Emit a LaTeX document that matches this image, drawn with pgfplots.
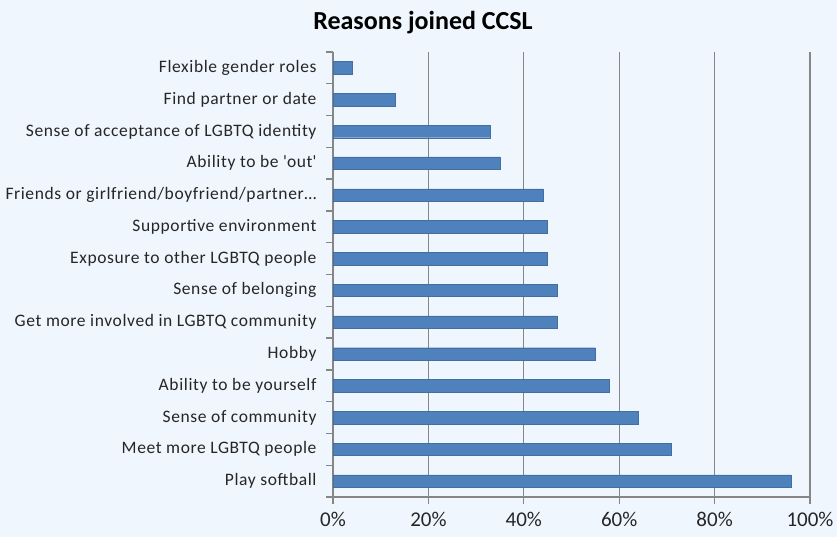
\documentclass[border=0pt]{standalone}
\usepackage{fontspec}
\setmainfont{Carlito}
\newfontfamily\lblfont{Carlito}[LetterSpace=3.5]
\usepackage{pgfplots}
\pgfplotsset{compat=1.18}
\definecolor{bgc}{RGB}{239,246,253}
\definecolor{barc}{RGB}{79,129,189}
\definecolor{gridc}{RGB}{134,134,134}
\begin{document}
\begin{tikzpicture}
\useasboundingbox (0,0) rectangle (837pt,537pt);
\fill[bgc] (0,0) rectangle (837pt,537pt);
\node[font=\fontsize{26}{30}\selectfont\bfseries, anchor=base] at (423pt,507pt) {Reasons joined CCSL};
\begin{axis}[
  at={(333pt,40pt)}, anchor=south west,
  scale only axis, width=477pt, height=445pt,
  xbar, bar width=12.5pt,
  xmin=0, xmax=100, ymin=-0.5, ymax=13.5,
  axis x line*=bottom, axis y line*=left,
  axis line style={gridc, line width=1.3pt, -},
  xtick={0,20,40,60,80,100},
  xticklabel={\pgfmathprintnumber{\tick}\%},
  /pgf/number format/assume math mode=true,
  xtick align=outside, ytick align=outside,
  xmajorgrids,
  grid style={gridc, line width=1.3pt},
  every tick/.style={gridc, line width=1.3pt},
  major tick length=7pt,
  ytick={-0.5,0.5,...,13.5},
  y tick label as interval,
  yticklabels={Play softball, Meet more LGBTQ people, Sense of community, Ability to be yourself, Hobby, Get more involved in LGBTQ community, Sense of belonging, Exposure to other LGBTQ people, Supportive environment, Friends or girlfriend/boyfriend/partner\ldots, Ability to be \textquotesingle out\textquotesingle, Sense of acceptance of LGBTQ identity, Find partner or date, Flexible gender roles},
  yticklabel style={font=\lblfont\fontsize{17.5}{20}\selectfont, text=black!85, xshift=-6pt},
  xticklabel style={font=\fontsize{21}{24}\selectfont, text=black!85, yshift=-5pt},
]
\addplot[fill=barc, draw=barc!85!black, line width=0.4pt] coordinates {
(96,0) (71,1) (64,2) (58,3) (55,4) (47,5) (47,6) (45,7) (45,8) (44,9) (35,10) (33,11) (13,12) (4,13)
};
\end{axis}
\end{tikzpicture}
\end{document}
